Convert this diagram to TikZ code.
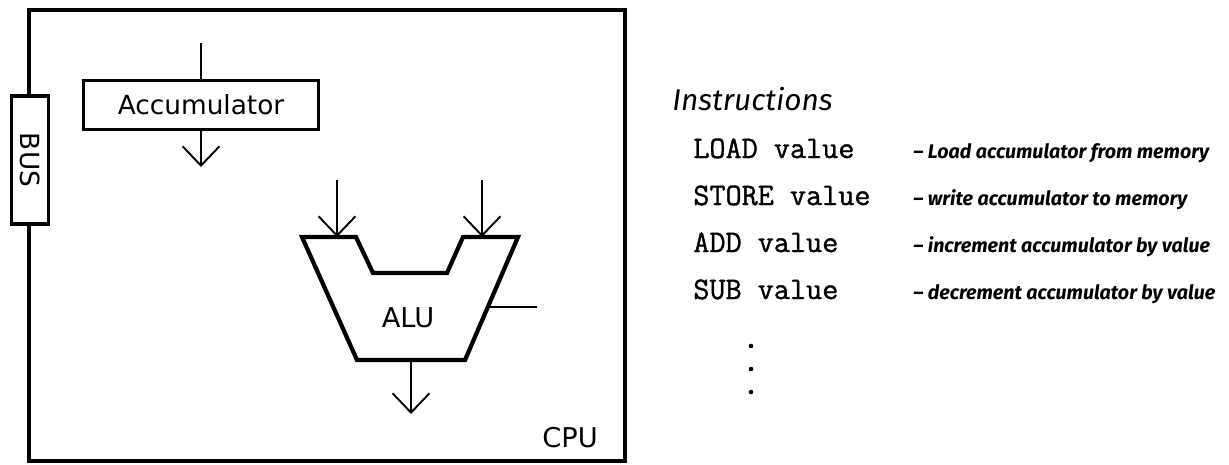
\documentclass[tikz,border=0pt]{standalone}
\usepackage{fontspec}
\setsansfont{DejaVu Sans}
\newfontfamily\descfont{Fira Sans}
\newfontfamily\codefont[FakeBold=1.2]{Latin Modern Mono}
\usetikzlibrary{positioning,arrows.meta}

\begin{document}
\begin{tikzpicture}[x=0.02cm,y=-0.02cm,
  wire/.style={line width=1.1pt},
  flow/.style={wire,-{Straight Barb[length=11pt,width=21pt]}},
  unitbox/.style={draw,line width=2.2pt,inner sep=0pt,font=\sffamily\fontsize{15}{18}\selectfont},
  instr/.style={anchor=base west,inner sep=0pt,font=\codefont\fontsize{17.8}{20}\selectfont},
  desc/.style={anchor=base west,inner sep=0pt,font=\descfont\bfseries\itshape\fontsize{11.2}{14}\selectfont}]
\useasboundingbox (0,0) rectangle (1229,464);
\draw[line width=2.4pt] (29,10) rectangle (625,461);
\node[unitbox,fill=white,line width=1.9pt,rotate=-90,minimum width=2.56cm,minimum height=0.74cm] (bus) at (30,160) {BUS};
\node[unitbox,minimum width=4.7cm,minimum height=0.98cm] (acc) at (201,105) {Accumulator};
\node[inner sep=0pt,font=\sffamily\fontsize{15.5}{18}\selectfont] (cpu) at (570,438) {CPU};
% ALU
\draw[line width=2.4pt,line join=miter] (302,237) -- (356,237) -- (373,273) -- (447,273) -- (463,237)
  -- (518,237) -- (465,360) -- (357,360) -- cycle;
\node[inner sep=0pt,font=\sffamily\fontsize{15.5}{18}\selectfont] (alu) at (408,318) {ALU};
\coordinate (accin) at (201,43);
\coordinate (accout) at (201,167);
\coordinate (inA) at (337,180);
\coordinate (portA) at (337,237);
\coordinate (inB) at (482,180);
\coordinate (portB) at (482,237);
\coordinate (aluout) at (411,360);
\coordinate (result) at (411,414);
\coordinate (aluside) at (488,307);
\coordinate (flag) at (537,307);
\draw[wire] (accin) -- (acc);
\draw[flow] (acc) -- (accout);
\draw[flow] (inA) -- (portA);
\draw[flow] (inB) -- (portB);
\draw[flow] (aluout) -- (result);
\draw[wire] (aluside) -- (flag);
% instruction list
\node[anchor=base west,inner sep=0pt,font=\descfont\itshape\fontsize{17}{20}\selectfont] (title) at (672,110) {Instructions};
\node[instr] (load) at (693,158) {LOAD value};
\node[instr] (store) at (693,205) {STORE value};
\node[instr] (add) at (693,252) {ADD value};
\node[instr] (sub) at (693,299) {SUB value};
\node[desc] (loaddesc) at (913,158) {– Load accumulator from memory};
\node[desc] (storedesc) at (913,205) {– write accumulator to memory};
\node[desc] (adddesc) at (913,252) {– increment accumulator by value};
\node[desc] (subdesc) at (913,299) {– decrement accumulator by value};
\foreach \y in {346,369,392} \fill (751,\y) circle (1.3pt);
\end{tikzpicture}
\end{document}
